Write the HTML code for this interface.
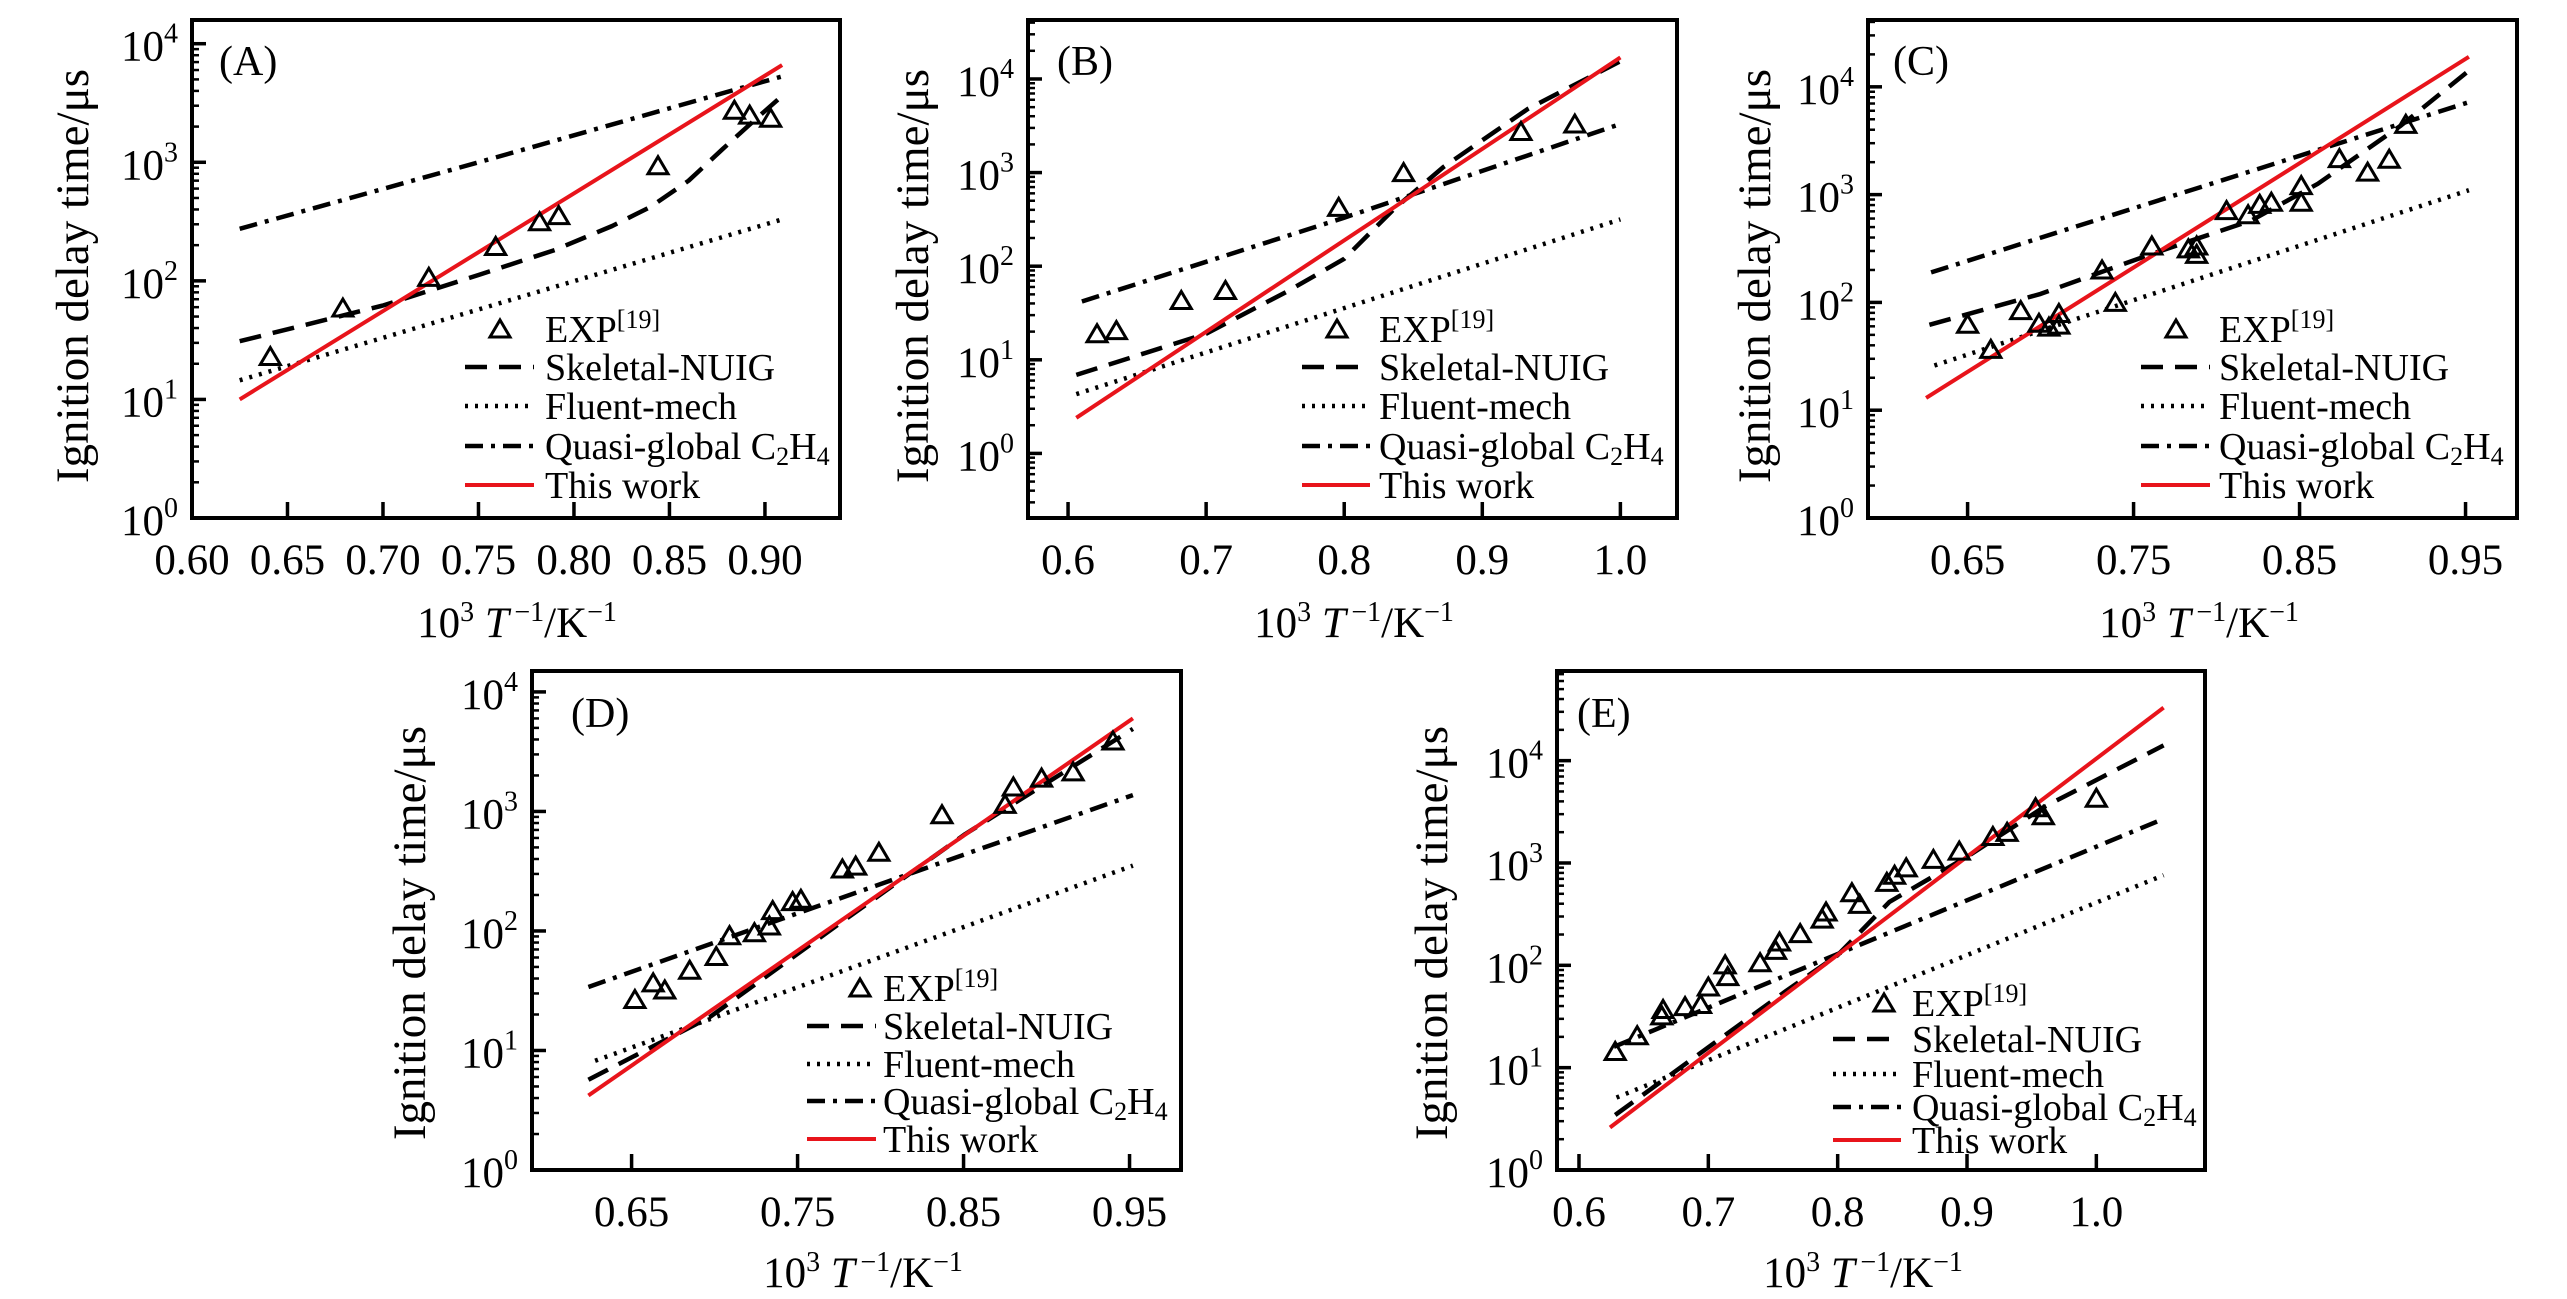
<!DOCTYPE html>
<html><head><meta charset="utf-8"><style>
html,body{margin:0;padding:0;background:#fff;}
svg{display:block;font-family:"Liberation Serif","Times New Roman",serif;}
</style></head><body>
<svg id="fig" width="2567" height="1299" viewBox="0 0 2567 1299" xmlns="http://www.w3.org/2000/svg">
<rect width="2567" height="1299" fill="#fff"/>
</svg>
<script>
// ---- Panel A data ----
const aRedX=[0.625,0.909], aRedY=[10,6600];
const aDashX=[0.625,0.70,0.75,0.79,0.82,0.84,0.86,0.878,0.895,0.909], aDashY=[31,62,112,182,290,420,700,1300,2300,3630];
const aDotX=[0.625,0.909], aDotY=[14.5,330];
const aDdX=[0.625,0.75,0.909], aDdY=[275,1000,5300];
const aExpX=[0.641,0.679,0.724,0.759,0.782,0.792,0.844,0.884,0.892,0.903];
const aExpY=[23,59,107,195,315,355,935,2750,2500,2350];
const aTicks=[0.60,0.65,0.70,0.75,0.80,0.85,0.90], aTickLabels=["0.60","0.65","0.70","0.75","0.80","0.85","0.90"];
// ---- Panel B data ----
const bRedX=[0.606,1.0], bRedY=[2.4,17000];
const bDashX=[0.606,0.7,0.76,0.8,0.836,0.872,0.933,1.0], bDashY=[6.9,19,55,120,407,1150,4790,15500];
const bDotX=[0.606,1.0], bDotY=[4.3,316];
const bDdX=[0.61,0.8,1.0], bDdY=[42,330,3300];
const bExpX=[0.621,0.635,0.682,0.714,0.796,0.843,0.928,0.967];
const bExpY=[19,20.5,43,55,425,1000,2750,3300];
const bTicks=[0.6,0.7,0.8,0.9,1.0], bTickLabels=["0.6","0.7","0.8","0.9","1.0"];
// ---- Panel C data ----
const cRedX=[0.625,0.952], cRedY=[13,19000];
const cDashX=[0.627,0.694,0.761,0.821,0.861,0.911,0.952], cDashY=[62,120,282,575,1260,4365,14100];
const cDotX=[0.63,0.952], cDotY=[26,1100];
const cDdX=[0.628,0.952], cDdY=[190,7200];
const cExpX=[0.650,0.664,0.682,0.693,0.699,0.705,0.705,0.731,0.739,0.761,0.783,0.788,0.788,0.806,0.819,0.826,0.833,0.851,0.851,0.874,0.891,0.904,0.914];
const cExpY=[62.7,36.7,84,64,59,79,61.5,200,100,334,314,334,279,711,651,813,850,850,1213,2160,1615,2128,4490];
const cTicks=[0.65,0.75,0.85,0.95], cTickLabels=["0.65","0.75","0.85","0.95"];
// ---- Panel D data ----
const dRedX=[0.624,0.952], dRedY=[4.2,6000];
const dDashX=[0.624,0.697,0.774,0.851,0.952], dDashY=[5.7,19,112,646,4900];
const dDotX=[0.628,0.952], dDotY=[8.2,352];
const dDdX=[0.624,0.952], dDdY=[34,1370];
const dExpX=[0.652,0.663,0.670,0.685,0.701,0.709,0.724,0.733,0.735,0.747,0.752,0.777,0.785,0.799,0.837,0.875,0.880,0.897,0.916,0.940];
const dExpY=[26.7,36.8,32.1,46.9,61.1,91.2,96.6,110,148,176,184,330,349,455,938,1146,1603,1901,2143,3882];
const dTicks=[0.65,0.75,0.85,0.95], dTickLabels=["0.65","0.75","0.85","0.95"];
// ---- Panel E data ----
const eRedX=[0.624,1.052], eRedY=[2.6,33000];
const eDashX=[0.628,0.70,0.76,0.80,0.84,0.90,0.96,1.052], eDashY=[3.45,15.8,56,126,417,1150,3550,14100];
const eDotX=[0.629,1.052], eDotY=[5.1,760];
const eDdX=[0.627,1.052], eDdY=[16,2700];
const eExpX=[0.628,0.645,0.664,0.665,0.682,0.694,0.700,0.713,0.715,0.740,0.752,0.755,0.771,0.788,0.791,0.811,0.817,0.838,0.844,0.853,0.874,0.894,0.920,0.931,0.953,0.959,1.0];
const eExpY=[14.4,20.5,32.1,37.0,39.5,41.4,61.4,101,77.6,106,140,169,204,283,332,512,394,647,759,897,1084,1306,1816,1991,3467,2897,4295];
const eTicks=[0.6,0.7,0.8,0.9,1.0], eTickLabels=["0.6","0.7","0.8","0.9","1.0"];

const NS='http://www.w3.org/2000/svg';
const svg=document.getElementById('fig');
function mk(tag,attrs,parent){const e=document.createElementNS(NS,tag);for(const k in attrs)e.setAttribute(k,attrs[k]);parent.appendChild(e);return e;}

function drawPanel(p){
  const g=mk('g',{},svg);
  
  
  const [x0,y0,x1,y1]=p.box;
  const sx=v=>x0+(v-p.xr[0])/(p.xr[1]-p.xr[0])*(x1-x0);
  const sy=v=>y1-(Math.log10(v)-p.lr[0])/(p.lr[1]-p.lr[0])*(y1-y0);
  const syl=l=>y1-(l-p.lr[0])/(p.lr[1]-p.lr[0])*(y1-y0);
  for(let d=Math.floor(p.lr[0]);d<=Math.ceil(p.lr[1]);d++){
    for(let m=1;m<=9;m++){
      const l=d+Math.log10(m);
      if(l<p.lr[0]-1e-6||l>p.lr[1]+1e-6)continue;
      const y=syl(l);
      const t=mk('line',{x1:x0,x2:x0+(m===1?14:7),y1:y,y2:y,stroke:'#000','stroke-width':m===1?3.5:2.5},g);
      
      
      if(m===1&&d>=0&&d<=4){
        const tx=mk('text',{x:x0-14,y:y+17,'font-size':43,'text-anchor':'end'},g);
        tx.innerHTML='10<tspan dy="-18" font-size="28">'+d+'</tspan>';
        
        
      }
    }
  }
  p.ticks.forEach((v,i)=>{
    const x=sx(v);
    const t=mk('line',{x1:x,x2:x,y1:y1,y2:y1-16,stroke:'#000','stroke-width':3.5},g);
    
    
    const tl=mk('text',{x:x,y:y1+56,'font-size':43,'text-anchor':'middle'},g);
    tl.textContent=p.tickLabels[i];
    
    
  });
  const series=[
    {xs:p.dd[0],ys:p.dd[1],dash:'18 8 4 8',color:'#000',name:'quasi-global-line',w:4.5},
    {xs:p.dot[0],ys:p.dot[1],dash:'3 7',color:'#000',name:'fluent-mech-line',w:4.5},
    {xs:p.dash[0],ys:p.dash[1],dash:'22 12',color:'#000',name:'skeletal-nuig-line',w:4.5},
    {xs:p.red[0],ys:p.red[1],dash:'none',color:'#e8141b',name:'this-work-line',w:4}
  ];
  series.forEach(s=>{
    const pts=s.xs.map((v,i)=>sx(v).toFixed(1)+','+sy(s.ys[i]).toFixed(1)).join(' ');
    const pl=mk('polyline',{points:pts,fill:'none',stroke:s.color,'stroke-width':s.w,'stroke-dasharray':s.dash,'stroke-linejoin':'round'},g);
    
    
  });
  p.exp[0].forEach((v,i)=>{
    const cx=sx(v), cy=sy(p.exp[1][i]);
    const tr=mk('polygon',{points:(cx-10)+','+(cy+8)+' '+(cx+10)+','+(cy+8)+' '+cx+','+(cy-9),fill:'none',stroke:'#000','stroke-width':3},g);
    
    
  });
  const fr=mk('rect',{x:x0,y:y0,width:x1-x0,height:y1-y0,fill:'none',stroke:'#000','stroke-width':4},g);
  
  
  const tag=mk('text',{x:p.tag[0],y:p.tag[1],'font-size':42},g);
  tag.textContent='('+p.id+')';
  
  
  const yt=mk('text',{x:0,y:0,'font-size':47,'text-anchor':'middle',transform:'translate('+p.yt[0]+','+p.yt[1]+') rotate(-90)'},g);
  yt.textContent='Ignition delay time/\u03bcs';
  
  
  const xt=mk('text',{x:p.xt[0],y:p.xt[1],'font-size':43,'text-anchor':'middle'},g);
  xt.innerHTML='10<tspan dy="-16" font-size="28">3</tspan><tspan dy="16"> </tspan><tspan font-style="italic">T</tspan><tspan dy="-16" font-size="28">\u2009\u22121</tspan><tspan dy="16">/K</tspan><tspan dy="-16" font-size="28">\u22121</tspan>';
  
  
  const L=p.leg, r=L.rows;
  const lg=mk('g',{},g);
  
  
  const m0=mk('polygon',{points:(L.mx-10)+','+(r[0]+8)+' '+(L.mx+10)+','+(r[0]+8)+' '+L.mx+','+(r[0]-9),fill:'none',stroke:'#000','stroke-width':3},lg);
  
  
  const styles=[['22 12','#000',4.5],['3 7','#000',4.5],['18 8 4 8','#000',4.5],['none','#e8141b',4]];
  styles.forEach((s,i)=>{
    const ln=mk('line',{x1:L.l0,x2:L.l1,y1:r[i+1],y2:r[i+1],stroke:s[1],'stroke-width':s[2],'stroke-dasharray':s[0]},lg);
    
    
  });
  const labels=['EXP<tspan dy="-14" font-size="26">[19]</tspan>','Skeletal-NUIG','Fluent-mech','Quasi-global C<tspan dy="6" font-size="26">2</tspan><tspan dy="-6">H</tspan><tspan dy="6" font-size="26">4</tspan>','This work'];
  labels.forEach((t,i)=>{
    const tx=mk('text',{x:L.tx,y:r[i]+13,'font-size':38},lg);
    tx.innerHTML=t;
    
    
  });
}

drawPanel({id:'A',box:[192,20,840,518],xr:[0.60,0.9393],lr:[0,4.2],ticks:aTicks,tickLabels:aTickLabels,
  red:[aRedX,aRedY],dash:[aDashX,aDashY],dot:[aDotX,aDotY],dd:[aDdX,aDdY],exp:[aExpX,aExpY],
  tag:[219,75],yt:[88,276],xt:[517,637],leg:{mx:500,tx:545,l0:465,l1:534,rows:[329,367,406,446,485]}});
drawPanel({id:'B',box:[1028,20,1677,518],xr:[0.571,1.041],lr:[-0.69,4.63],ticks:bTicks,tickLabels:bTickLabels,
  red:[bRedX,bRedY],dash:[bDashX,bDashY],dot:[bDotX,bDotY],dd:[bDdX,bDdY],exp:[bExpX,bExpY],
  tag:[1057,75],yt:[928,276],xt:[1354,637],leg:{mx:1337,tx:1379,l0:1302,l1:1370,rows:[329,367,406,446,485]}});
drawPanel({id:'C',box:[1868,20,2517,518],xr:[0.590,0.981],lr:[0,4.62],ticks:cTicks,tickLabels:cTickLabels,
  red:[cRedX,cRedY],dash:[cDashX,cDashY],dot:[cDotX,cDotY],dd:[cDdX,cDdY],exp:[cExpX,cExpY],
  tag:[1893,75],yt:[1770,276],xt:[2199,637],leg:{mx:2176,tx:2219,l0:2141,l1:2210,rows:[329,367,406,446,485]}});
drawPanel({id:'D',box:[532,671,1181,1170],xr:[0.590,0.981],lr:[0,4.175],ticks:dTicks,tickLabels:dTickLabels,
  red:[dRedX,dRedY],dash:[dDashX,dDashY],dot:[dDotX,dDotY],dd:[dDdX,dDdY],exp:[dExpX,dExpY],
  tag:[571,727],yt:[425,933],xt:[863,1287],leg:{mx:860,tx:883,l0:807,l1:876,rows:[988,1026,1064,1101,1139]}});
drawPanel({id:'E',box:[1557,671,2205,1170],xr:[0.583,1.084],lr:[0,4.876],ticks:eTicks,tickLabels:eTickLabels,
  red:[eRedX,eRedY],dash:[eDashX,eDashY],dot:[eDotX,eDotY],dd:[eDdX,eDdY],exp:[eExpX,eExpY],
  tag:[1577,727],yt:[1447,933],xt:[1863,1287],leg:{mx:1884,tx:1912,l0:1833,l1:1901,rows:[1003,1039,1074,1107,1140]}});
</script>
</body></html>
